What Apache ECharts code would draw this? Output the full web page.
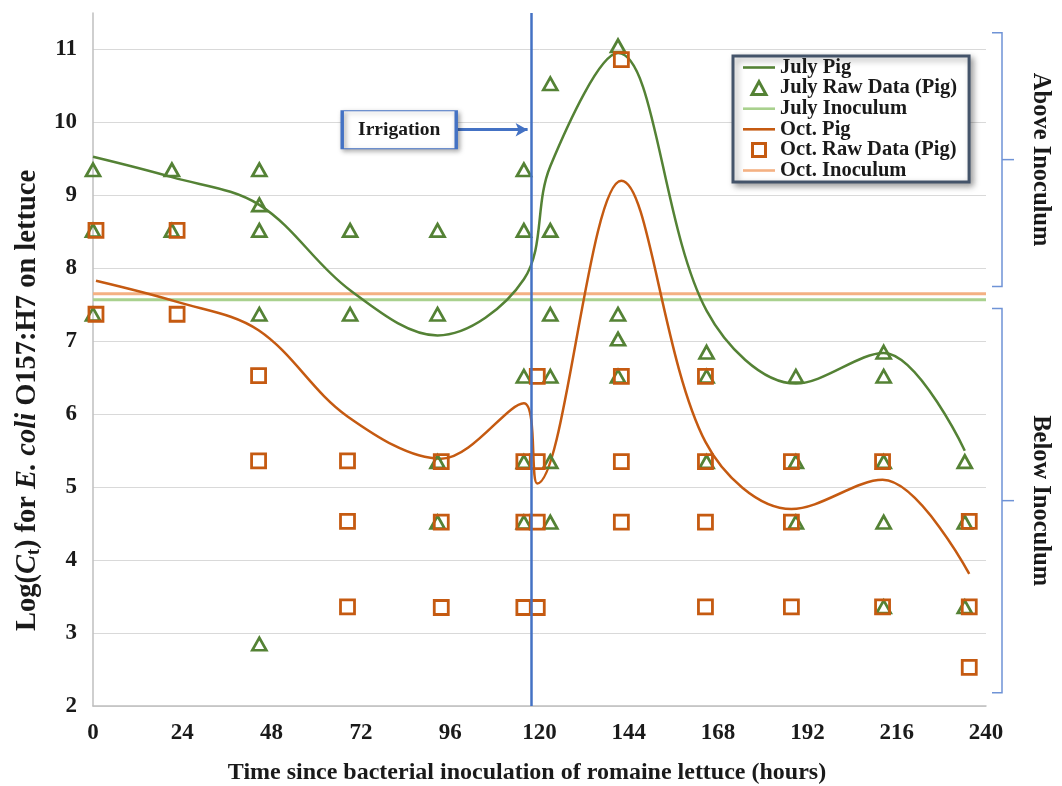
<!DOCTYPE html>
<html>
<head>
<meta charset="utf-8">
<script src="https://cdn.jsdelivr.net/npm/echarts@6/dist/echarts.min.js"></script>
<style>
html,body{margin:0;padding:0;background:#fff;}
#chart{width:1062px;height:786px;}
</style>
</head>
<body>
<div id="chart"></div>
<script>
// ---- data ----
const xTicks = [0, 24, 48, 72, 96, 120, 144, 168, 192, 216, 240];
const julyTimes = [0, 21.2, 44.7, 69.1, 92.6, 115.8, 122.9, 141.1, 164.9, 188.9, 212.5, 234.3];
const julyRaw = [
  [9.35, 8.52, 7.37],
  [9.35, 8.52],
  [9.35, 8.87, 8.52, 7.37, 2.85],
  [8.52, 7.37],
  [8.52, 7.37, 5.35, 4.52],
  [9.35, 8.52, 6.52, 5.35, 4.52],
  [10.53, 8.52, 7.37, 6.52, 5.35, 4.52],
  [11.05, 7.37, 7.03, 6.52],
  [6.85, 6.52, 5.35],
  [6.52, 5.35, 4.52],
  [6.85, 6.52, 5.35, 4.52, 3.36],
  [5.35, 4.52, 3.36]
];
const julyCurve = [9.53, 9.25, 8.87, 7.7, 7.08, 7.85, 9.4, 10.95, 7.42, 6.42, 6.84, 5.5];
const octTimes = [0.8, 22.6, 44.5, 68.4, 93.6, 115.8, 119.4, 142, 164.6, 187.7, 212.2, 235.5];
const octRaw = [
  [8.52, 7.37],
  [8.52, 7.37],
  [6.53, 5.36],
  [5.36, 4.53, 3.36],
  [5.35, 4.52, 3.35],
  [5.35, 4.52, 3.35],
  [6.52, 5.35, 4.52, 3.35],
  [10.86, 6.52, 5.35, 4.52],
  [6.52, 5.35, 4.52, 3.36],
  [5.35, 4.52, 3.36],
  [5.35, 3.36],
  [4.53, 3.36, 2.53]
];
const octCurve = [7.83, 7.54, 7.15, 5.97, 5.39, 6.15, 5.05, 9.2, 5.62, 4.70, 5.10, 3.81];
const julyInoculum = 7.57;
const octInoculum = 7.65;
const inoculumSpan = [0, 240];
const irrigationTime = 117.8;
const irrigationLabel = { text: 'Irrigation', t: 82.3, y: 9.9, arrowFrom: 97.7, arrowTo: 116.8 };
const aboveRange = [7.75, 11.23];
const belowRange = [2.18, 7.45];

// ---- helpers ----
function flatten(times, raw) {
  const out = [];
  times.forEach((t, i) => raw[i].forEach(v => out.push([t, v])));
  return out;
}
function pairs(times, vals) { return times.map((t, i) => [t, vals[i]]); }

const GREEN = '#548235', ORANGE = '#C55A11', LGREEN = '#A9D18E', LORANGE = '#F4B183', BLUE = '#4472C4';
const FONT = "'Liberation Serif', 'Times New Roman', serif";
const TXT = '#1a1a1a';
const LINE_ICON = 'path://M0,0H32V2.6H0Z';
const TRI_ICON = 'path://M6.5,0L13,12L0,12Z';
const SQ_ICON = 'path://M0,0H12V12H0Z';
const chart = echarts.init(document.getElementById('chart'), null, { renderer: 'canvas' });

const option = {
  backgroundColor: '#fff',
  animation: false,
  grid: { left: 93, right: 76, top: 13, bottom: 80, containLabel: false, outerBoundsMode: 'none' },
  legend: {
    orient: 'vertical', left: 733, top: 56, symbolKeepAspect: true,
    backgroundColor: '#fff', borderColor: '#44546A', borderWidth: 3, borderRadius: 0,
    shadowColor: 'rgba(0,0,0,0.35)', shadowBlur: 6, shadowOffsetX: 3, shadowOffsetY: 3,
    padding: [1, 12, 1, 10], itemGap: -0.4, itemWidth: 32, itemHeight: 13,
    textStyle: { fontFamily: FONT, fontWeight: 'bold', fontSize: 20.5, color: TXT },
    data: [
      { name: 'July Pig', icon: LINE_ICON, itemStyle: { color: GREEN } },
      { name: 'July Raw Data (Pig)', icon: TRI_ICON, itemStyle: { color: 'rgba(255,255,255,0)', borderColor: GREEN, borderWidth: 3 } },
      { name: 'July Inoculum', icon: LINE_ICON, itemStyle: { color: LGREEN } },
      { name: 'Oct. Pig', icon: LINE_ICON, itemStyle: { color: ORANGE } },
      { name: 'Oct. Raw Data (Pig)', icon: SQ_ICON, itemStyle: { color: 'rgba(255,255,255,0)', borderColor: ORANGE, borderWidth: 3 } },
      { name: 'Oct. Inoculum', icon: LINE_ICON, itemStyle: { color: LORANGE } }
    ]
  },
  xAxis: {
    type: 'value', min: 0, max: 240, interval: 24,
    axisLine: { show: true, lineStyle: { color: '#BFBFBF', width: 1.5 } },
    axisTick: { show: false }, splitLine: { show: false },
    axisLabel: { margin: 16, fontFamily: FONT, fontWeight: 'bold', fontSize: 23, color: TXT,
      formatter: v => xTicks.includes(v) ? String(v) : '' },
    name: 'Time since bacterial inoculation of romaine lettuce (hours)',
    nameLocation: 'middle', nameGap: 55,
    nameTextStyle: { fontFamily: FONT, fontWeight: 'bold', fontSize: 24, color: TXT, padding: [0, 25, 0, 0] }
  },
  yAxis: {
    type: 'value', min: 2, max: 11.5, interval: 1,
    axisLine: { show: true, lineStyle: { color: '#BFBFBF', width: 1.5 } },
    axisTick: { show: false },
    splitLine: { show: true, showMaxLine: false, lineStyle: { color: '#D9D9D9', width: 1 } },
    axisLabel: { margin: 16, showMaxLabel: false, fontFamily: FONT, fontWeight: 'bold', fontSize: 23, color: TXT },
    name: '{b|Log(}{i|C}{s|t}{b|) for }{i|E. coli}{b| O157:H7 on lettuce}',
    nameLocation: 'middle', nameGap: 42, nameRotate: 90,
    nameTextStyle: {
      padding: [0, 82, 0, 0],
      rich: {
        b: { fontFamily: FONT, fontWeight: 'bold', fontSize: 28.5, color: TXT, lineHeight: 31 },
        i: { fontFamily: FONT, fontWeight: 'bold', fontStyle: 'italic', fontSize: 28.5, color: TXT, lineHeight: 31 },
        s: { fontFamily: FONT, fontWeight: 'bold', fontSize: 18, color: TXT, lineHeight: 17, verticalAlign: 'bottom' }
      }
    }
  },
  series: [
    {
      name: 'July Pig', type: 'line', data: pairs(julyTimes, julyCurve), smooth: 0.35,
      symbol: 'none', lineStyle: { color: GREEN, width: 2.5 }, itemStyle: { color: GREEN }, z: 3,
      markLine: {
        silent: true, symbol: 'none', label: { show: false },
        lineStyle: { color: BLUE, width: 2.5, type: 'solid' },
        data: [{ xAxis: irrigationTime }]
      }
    },
    {
      name: 'July Raw Data (Pig)', type: 'scatter', data: flatten(julyTimes, julyRaw),
      symbol: 'triangle', symbolSize: [14, 12.5],
      itemStyle: { color: 'rgba(255,255,255,0)', borderColor: GREEN, borderWidth: 2.7, opacity: 1 }, z: 4
    },
    {
      name: 'July Inoculum', type: 'line', data: inoculumSpan.map(t => [t, julyInoculum]),
      symbol: 'none', lineStyle: { color: LGREEN, width: 3 }, itemStyle: { color: LGREEN }, z: 2
    },
    {
      name: 'Oct. Pig', type: 'line', data: pairs(octTimes, octCurve), smooth: 0.35,
      symbol: 'none', lineStyle: { color: ORANGE, width: 2.5 }, itemStyle: { color: ORANGE }, z: 3,
      markLine: {
        silent: true, symbol: ['none', 'arrow'], symbolSize: [10, 12], label: { show: false },
        lineStyle: { color: BLUE, width: 3, type: 'solid' },
        data: [[{ coord: [irrigationLabel.arrowFrom, irrigationLabel.y] }, { coord: [irrigationLabel.arrowTo, irrigationLabel.y] }]]
      },
      markPoint: {
        silent: true, symbol: 'rect', symbolSize: [114, 38],
        itemStyle: { color: '#fff', borderColor: BLUE, borderWidth: 2,
          shadowColor: 'rgba(0,0,0,0.35)', shadowBlur: 5, shadowOffsetX: 2, shadowOffsetY: 2 },
        label: { show: true, position: 'inside', formatter: irrigationLabel.text,
          fontFamily: FONT, fontWeight: 'bold', fontSize: 19.5, color: TXT },
        data: [{ coord: [irrigationLabel.t, irrigationLabel.y] }]
      }
    },
    {
      name: 'Oct. Raw Data (Pig)', type: 'scatter', data: flatten(octTimes, octRaw),
      symbol: 'rect', symbolSize: 14,
      itemStyle: { color: 'rgba(255,255,255,0)', borderColor: ORANGE, borderWidth: 2.8, opacity: 1 }, z: 4
    },
    {
      name: 'Oct. Inoculum', type: 'line', data: inoculumSpan.map(t => [t, octInoculum]),
      symbol: 'none', lineStyle: { color: LORANGE, width: 3 }, itemStyle: { color: LORANGE }, z: 2
    }
  ]
};
chart.setOption(option);

// right-side brackets
function bracket(range, label) {
  const yTop = chart.convertToPixel({ yAxisIndex: 0 }, range[1]);
  const yBot = chart.convertToPixel({ yAxisIndex: 0 }, range[0]);
  const yMid = (yTop + yBot) / 2;
  const xL = 992, xV = 1002, xR = 1014;
  const ls = { stroke: '#6F93D6', lineWidth: 1.5, fill: null };
  return [
    { type: 'polyline', shape: { points: [[xL, yTop], [xV, yTop], [xV, yBot], [xL, yBot]] }, style: ls, silent: true },
    { type: 'line', shape: { x1: xV, y1: yMid, x2: xR, y2: yMid }, style: ls, silent: true },
    { type: 'text', x: 1040, y: yMid, rotation: -Math.PI / 2,
      style: { text: label, fontFamily: FONT, fontWeight: 'bold', fontSize: 24.5, fill: TXT, align: 'center', verticalAlign: 'middle' },
      silent: true }
  ];
}
chart.setOption({ graphic: [].concat(bracket(aboveRange, 'Above Inoculum'), bracket(belowRange, 'Below Inoculum')) });
</script>
</body>
</html>
